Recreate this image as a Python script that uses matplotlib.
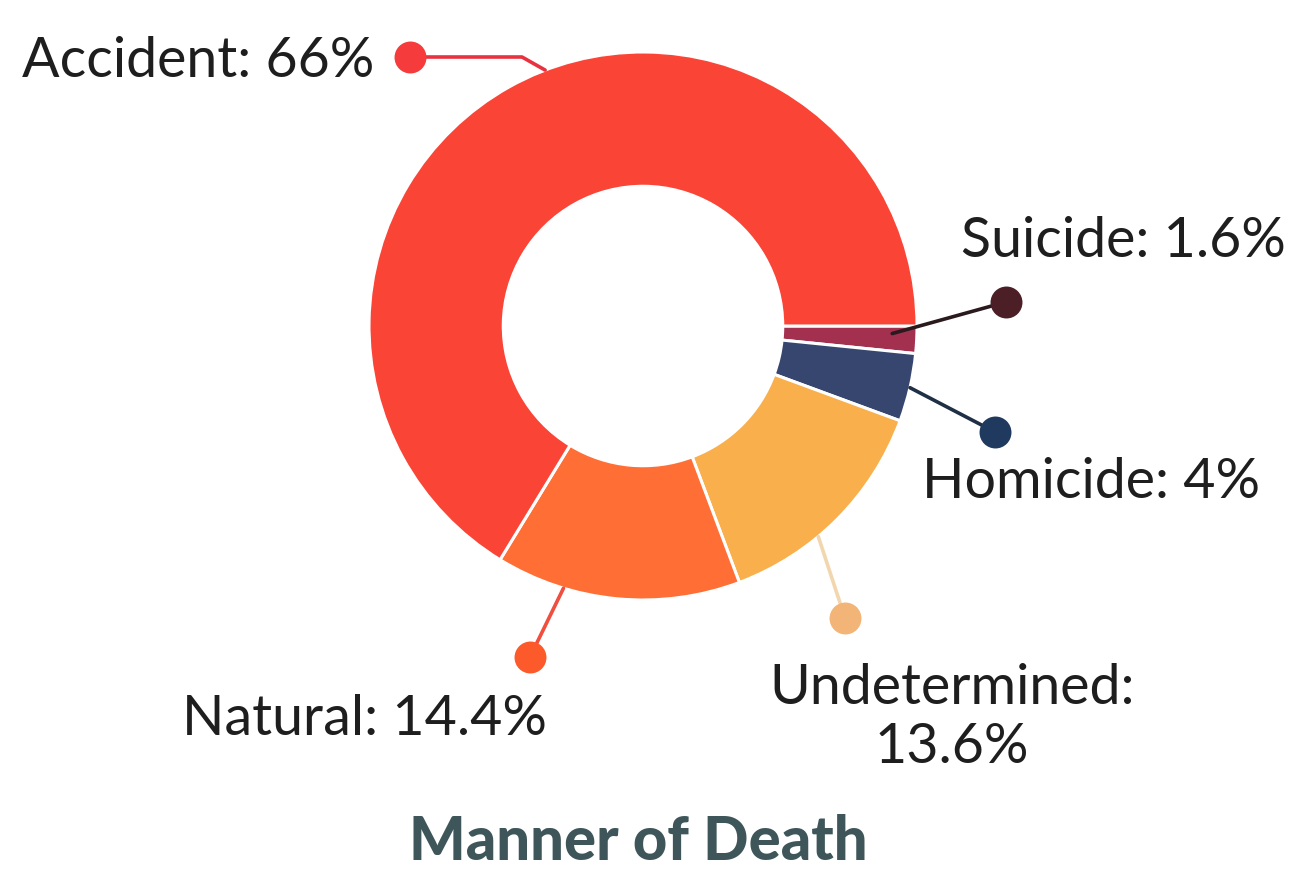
import matplotlib.pyplot as plt
import numpy as np

# data (clockwise from 3 o'clock)
categories = ['Suicide', 'Homicide', 'Undetermined', 'Natural', 'Accident']
values = [1.6, 4, 13.6, 14.4, 66]
wedge_colors = ['#A3304F', '#37466E', '#F9AF4B', '#FF6E35', '#FA4436']
dot_colors = ['#4B1F25', '#1F3A5E', '#F2B577', '#FC5A2A', '#F53B3B']
line_colors = ['#2A1A1E', '#1F2F45', '#F2D6AE', '#F04E3E', '#E8323F']
title = 'Manner of Death'

W, H = 1296, 875
fig = plt.figure(figsize=(W / 100, H / 100), dpi=100)
ax = fig.add_axes([0, 0, 1, 1])

# pixel coords, y grows downward -> counterclock=True draws clockwise on screen
cx, cy, R = 643, 326, 274
wedges, _ = ax.pie(values, colors=wedge_colors, startangle=0, counterclock=True,
                   center=(cx, cy), radius=R,
                   wedgeprops=dict(width=R * 0.49, edgecolor='white', linewidth=2.2))
ax.set_xlim(0, W)
ax.set_ylim(H, 0)
ax.set_aspect('equal')
ax.axis('off')

# leader layout: (fraction along wedge, radius fraction, dot xy, elbow or None)
leaders = {
    'Suicide': (0.3, 0.91, (1006, 302), None),
    'Homicide': (0.5, 1.0, (995, 432), None),
    'Undetermined': (0.61, 1.0, (845, 618), None),
    'Natural': (0.72, 1.0, (530, 657), None),
    'Accident': (0.535, 1.0, (410, 57), (522, 57)),
}
# label layout: (x, y, ha)
label_pos = {
    'Suicide': (1286, 257, 'right'),
    'Homicide': (922, 498, 'left'),
    'Undetermined': (952, 718, 'center'),
    'Natural': (182, 735, 'left'),
    'Accident': (22, 77, 'left'),
}

for i, (w, cat, val) in enumerate(zip(wedges, categories, values)):
    frac, rf, dot, elbow = leaders[cat]
    a = np.deg2rad(w.theta1 + frac * (w.theta2 - w.theta1))
    p0 = (cx + R * rf * np.cos(a), cy + R * rf * np.sin(a))
    pts = [p0] + ([elbow] if elbow else []) + [dot]
    xs, ys = zip(*pts)
    ax.plot(xs, ys, color=line_colors[i], lw=2.6, solid_capstyle='round', zorder=3)
    ax.plot(*dot, 'o', ms=23, color=dot_colors[i], mec='none', zorder=4)

    txt = f'{cat}: {val:g}%'
    x, y, ha = label_pos[cat]
    if cat == 'Undetermined':
        ax.text(x, y, txt.replace(': ', ':\n'), ha=ha, va='center', fontsize=40,
                family='Lato', color='#1E1E1E', linespacing=1.2, multialignment='center')
    else:
        ax.text(x, y, txt, ha=ha, va='baseline', fontsize=40, family='Lato', color='#1E1E1E')

ax.text(638, 860, title, ha='center', va='baseline', fontsize=43, family='Lato',
        fontweight='black', color='#3E5659')

fig.savefig('out.png', dpi=100, facecolor='white')
